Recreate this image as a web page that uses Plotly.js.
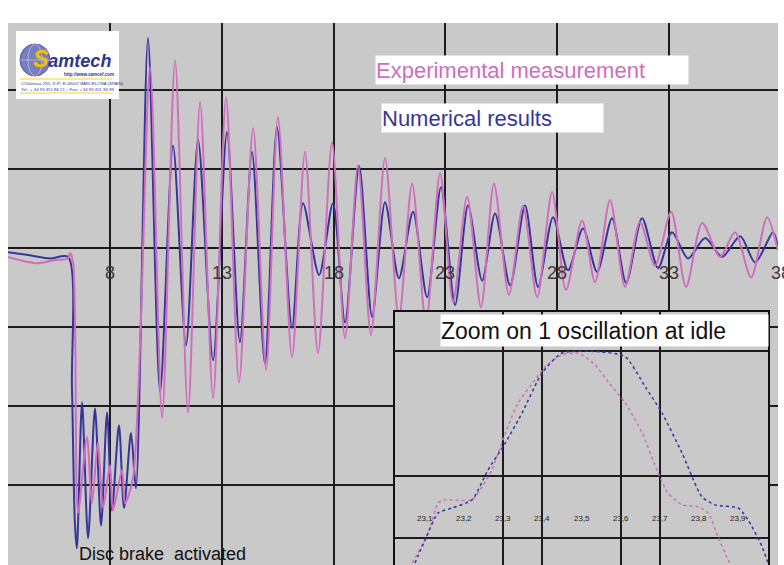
<!DOCTYPE html>
<html>
<head>
<meta charset="utf-8">
<script src="https://cdn.plot.ly/plotly-3.0.1.min.js"></script>
<style>html,body{margin:0;padding:0;background:#fff;}#chart{width:784px;height:565px;}</style>
</head>
<body>
<div id="chart"></div>
<script>
// ---- main chart data (time in s, signal in grid units) ----
const tNumerical = [3.44,4.42,5.32,6.12,6.30,6.43,6.52,6.75,7.02,7.33,7.60,7.87,8.09,8.40,8.63,8.94,9.16,9.70,10.24,10.82,11.40,11.94,12.61,13.23,13.81,14.35,14.93,15.47,16.14,16.63,17.35,17.97,18.51,19.14,19.72,20.30,20.92,21.55,22.18,22.80,23.43,24.01,24.64,25.22,25.89,26.56,27.14,27.81,28.48,29.15,29.78,30.45,31.08,31.79,32.51,33.13,33.85,34.61,35.37,36.18,36.85,37.65,37.87];
const vNumerical = [-0.05,-0.09,-0.13,-0.11,-1.76,-3.48,-3.80,-1.95,-3.67,-2.03,-3.51,-2.08,-3.32,-2.24,-3.29,-2.34,-3.04,2.66,-1.82,1.30,-1.23,1.37,-1.42,1.47,-1.19,1.22,-1.46,1.53,-1.01,0.57,-0.34,0.57,-0.94,1.04,-0.87,0.58,-0.38,0.46,-0.62,0.77,-0.72,0.54,-0.41,0.44,-0.47,0.54,-0.49,0.39,-0.28,0.25,-0.30,0.38,-0.44,0.38,-0.25,0.20,-0.13,0.13,-0.11,0.15,-0.18,0.20,0.01];
const tExperimental = [3.44,4.74,5.54,6.12,6.21,6.35,6.57,6.97,7.19,7.46,7.69,8.00,8.13,8.54,8.67,9.03,9.79,10.33,10.91,11.49,12.03,12.61,13.19,13.77,14.40,14.98,15.51,16.14,16.72,17.30,17.93,18.51,19.09,19.67,20.30,20.92,21.51,22.13,22.76,23.34,23.97,24.59,25.17,25.84,26.47,27.10,27.77,28.39,29.11,29.69,30.36,31.03,31.70,32.37,33.09,33.76,34.48,35.28,35.95,36.67,37.38,37.87];
const vExperimental = [-0.11,-0.19,-0.15,-0.13,-0.06,-0.18,-3.35,-2.39,-3.23,-2.47,-3.28,-2.75,-3.32,-2.81,-3.23,-2.91,2.29,-2.15,2.38,-2.08,1.85,-1.90,1.91,-1.70,1.52,-1.54,1.66,-1.38,1.22,-1.33,1.34,-1.14,1.05,-1.10,1.14,-0.89,0.82,-0.94,0.95,-0.68,0.65,-0.75,0.82,-0.59,0.54,-0.62,0.71,-0.53,0.35,-0.43,0.61,-0.49,0.33,-0.22,0.46,-0.49,0.32,-0.11,0.20,-0.37,0.39,-0.03];
const mainTickVals = [8,13,18,23,28,33,38];
const mainTickLabels = ["8","13","18","23","28","33","38"];
const mainGridY = [2,1,0,-1,-2,-3];

// ---- inset: zoom on one oscillation at idle ----
const tZoomExp = [23.067,23.108,23.133,23.151,23.220,23.246,23.271,23.305,23.338,23.381,23.407,23.450,23.491,23.535,23.568,23.612,23.655,23.696,23.721,23.757,23.798,23.824,23.849,23.875,23.885];
const vZoomExp = [-0.40,0.08,0.56,0.61,0.61,0.82,1.09,1.68,2.16,2.53,2.74,2.93,2.96,2.77,2.50,2.16,1.68,1.04,0.72,0.53,0.50,0.40,0.02,-0.35,-0.45];
const tZoomNum = [23.074,23.100,23.133,23.169,23.220,23.261,23.305,23.348,23.399,23.450,23.548,23.612,23.663,23.706,23.757,23.808,23.842,23.901,23.926,23.962,23.977];
const vZoomNum = [-0.40,-0.03,0.40,0.48,0.61,1.09,1.52,2.00,2.64,2.96,2.98,2.90,2.42,2.00,1.36,0.66,0.53,0.48,0.29,-0.14,-0.40];
const zoomTickVals = [23.1,23.2,23.3,23.4,23.5,23.6,23.7,23.8,23.9];
const zoomTickLabels = ["23,1","23,2","23,3","23,4","23,5","23,6","23,7","23,8","23,9"];
const zoomGridX = [23.3,23.4,23.6,23.7];
const zoomGridY = [0,1,3];

const PINK = '#cf6ebd';
const BLUE = '#36369a';
const FONT = 'Liberation Sans, Arial, sans-serif';

const W = 784, H = 565, ML = 8, MR = 6, MT = 23, MB = 0;
const PW = W - ML - MR, PH = H - MT - MB;
const PX = px => (px - ML) / PW;
const PY = py => (H - MB - py) / PH;

const xr = [3.44, 37.87];
const yr = [-4.01, 2.85];

const traces = [
  {x: tNumerical, y: vNumerical, type: 'scatter', mode: 'lines', name: 'Numerical results',
   line: {color: BLUE, width: 2, shape: 'spline', smoothing: 0.8}, xaxis: 'x', yaxis: 'y', hoverinfo: 'skip'},
  {x: tExperimental, y: vExperimental, type: 'scatter', mode: 'lines', name: 'Experimental measurement',
   line: {color: PINK, width: 2, shape: 'spline', smoothing: 0.8}, xaxis: 'x', yaxis: 'y', hoverinfo: 'skip'},
  {x: tZoomExp, y: vZoomExp, type: 'scatter', mode: 'lines',
   line: {color: PINK, width: 1.5, dash: 'dot', shape: 'spline', smoothing: 0.6}, xaxis: 'x2', yaxis: 'y2', hoverinfo: 'skip'},
  {x: tZoomNum, y: vZoomNum, type: 'scatter', mode: 'lines',
   line: {color: BLUE, width: 1.5, dash: 'dot', shape: 'spline', smoothing: 0.6}, xaxis: 'x2', yaxis: 'y2', hoverinfo: 'skip'}
];

const annotations = [];
// main tick labels (placed just below the zero line)
mainTickVals.forEach((v, i) => {
  annotations.push({x: (v - xr[0]) / (xr[1] - xr[0]), xref: 'paper', y: (0 - yr[0]) / (yr[1] - yr[0]), yref: 'paper',
    yshift: -25, xanchor: 'center', yanchor: 'middle', showarrow: false,
    text: mainTickLabels[i], font: {family: FONT, size: 18, color: '#3a3a3a'}});
});
// inset tick labels
zoomTickVals.forEach((v, i) => {
  annotations.push({x: v, xref: 'x2', y: 0.32, yref: 'y2', xanchor: 'center', yanchor: 'middle', showarrow: false,
    text: zoomTickLabels[i], font: {family: FONT, size: 8, color: '#222'}});
});
// legend boxes
annotations.push({x: PX(375), y: PY(55), xref: 'paper', yref: 'paper', xanchor: 'left', yanchor: 'top',
  width: 312, height: 28, align: 'left', bgcolor: '#ffffff', borderpad: 0, showarrow: false,
  text: 'Experimental measurement', font: {family: FONT, size: 22, color: PINK}});
annotations.push({x: PX(381), y: PY(103), xref: 'paper', yref: 'paper', xanchor: 'left', yanchor: 'top',
  width: 221, height: 28, align: 'left', bgcolor: '#ffffff', borderpad: 0, showarrow: false,
  text: 'Numerical results', font: {family: FONT, size: 22, color: BLUE}});
// inset title
annotations.push({x: PX(440), y: PY(314), xref: 'paper', yref: 'paper', xanchor: 'left', yanchor: 'top',
  width: 327, height: 31, align: 'left', bgcolor: '#ffffff', borderpad: 0, showarrow: false,
  text: 'Zoom on 1 oscillation at idle', font: {family: FONT, size: 23, color: '#111'}});
// bottom note
annotations.push({x: PX(77), y: PY(554), xref: 'paper', yref: 'paper', xanchor: 'left', yanchor: 'middle',
  showarrow: false, text: 'Disc brake\u00a0 activated', font: {family: FONT, size: 18, color: '#111'}});
// logo texts
annotations.push({x: PX(31), y: PY(59), xref: 'paper', yref: 'paper', xanchor: 'left', yanchor: 'middle', showarrow: false,
  text: '<b><i><span style="color:#f2c200;font-size:23px">S</span>amtech</i></b>',
  font: {family: FONT, size: 18, color: '#2d3590'}});
annotations.push({x: PX(62), y: PY(74.5), xref: 'paper', yref: 'paper', xanchor: 'left', yanchor: 'middle', showarrow: false,
  text: '<b>http://www.samcef.com</b>', font: {family: FONT, size: 4.5, color: '#2d3590'}});
annotations.push({x: PX(19), y: PY(83), xref: 'paper', yref: 'paper', xanchor: 'left', yanchor: 'middle', showarrow: false,
  text: 'C/Valencia 230, 3\u00b03\u00aa, E-08007 BARCELONA (SPAIN)', font: {family: FONT, size: 4.3, color: '#2d3590'}});
annotations.push({x: PX(19), y: PY(89), xref: 'paper', yref: 'paper', xanchor: 'left', yanchor: 'middle', showarrow: false,
  text: 'Tel.: + 34 93 451 86 21 \u2013 Fax: + 34 93 451 84 83', font: {family: FONT, size: 4.3, color: '#2d3590'}});

const shapes = [
  {type: 'rect', xref: 'paper', yref: 'paper', x0: PX(16), x1: PX(119), y0: PY(99), y1: PY(31),
   fillcolor: '#ffffff', line: {width: 0}, layer: 'above'},
  {type: 'circle', xref: 'paper', yref: 'paper', x0: PX(20), x1: PX(50), y0: PY(76), y1: PY(44),
   fillcolor: '#7680bf', line: {color: '#48509a', width: 1}, layer: 'above'},
  {type: 'circle', xref: 'paper', yref: 'paper', x0: PX(28), x1: PX(42), y0: PY(76), y1: PY(44),
   fillcolor: 'rgba(0,0,0,0)', line: {color: '#c8cce8', width: 0.7}, layer: 'above'},
  {type: 'line', xref: 'paper', yref: 'paper', x0: PX(20), x1: PX(50), y0: PY(60), y1: PY(60),
   line: {color: '#c8cce8', width: 0.7}, layer: 'above'},
  {type: 'line', xref: 'paper', yref: 'paper', x0: PX(20), x1: PX(112), y0: PY(79), y1: PY(79),
   line: {color: '#f2d230', width: 1}, layer: 'above'},
  {type: 'line', xref: 'paper', yref: 'paper', x0: PX(20), x1: PX(112), y0: PY(93), y1: PY(93),
   line: {color: '#f2d230', width: 1}, layer: 'above'}
];

const gridAxis = {showgrid: true, gridcolor: '#1c1c1c', gridwidth: 2, zeroline: false, showticklabels: false,
  ticks: '', fixedrange: true, tickmode: 'array'};

const layout = {
  width: W, height: H,
  margin: {l: ML, r: MR, t: MT, b: MB, pad: 0},
  paper_bgcolor: '#ffffff', plot_bgcolor: '#c9c9c9',
  showlegend: false, hovermode: false,
  xaxis: Object.assign({}, gridAxis, {range: xr, tickvals: mainTickVals.slice(0, 6), showline: false, domain: [0, 1], anchor: 'y'}),
  yaxis: Object.assign({}, gridAxis, {range: yr, tickvals: mainGridY, showline: false, domain: [0, 1], anchor: 'x'}),
  xaxis2: Object.assign({}, gridAxis, {range: [23.023, 23.977], tickvals: zoomGridX, domain: [PX(395), PX(768)], anchor: 'y2',
    showline: true, mirror: true, linecolor: '#111', linewidth: 2}),
  yaxis2: Object.assign({}, gridAxis, {range: [-0.432, 3.616], tickvals: zoomGridY, domain: [0, PY(312)], anchor: 'x2',
    showline: true, mirror: true, linecolor: '#111', linewidth: 2}),
  annotations: annotations,
  shapes: shapes
};

Plotly.newPlot('chart', traces, layout, {staticPlot: true, displayModeBar: false});
</script>
</body>
</html>
